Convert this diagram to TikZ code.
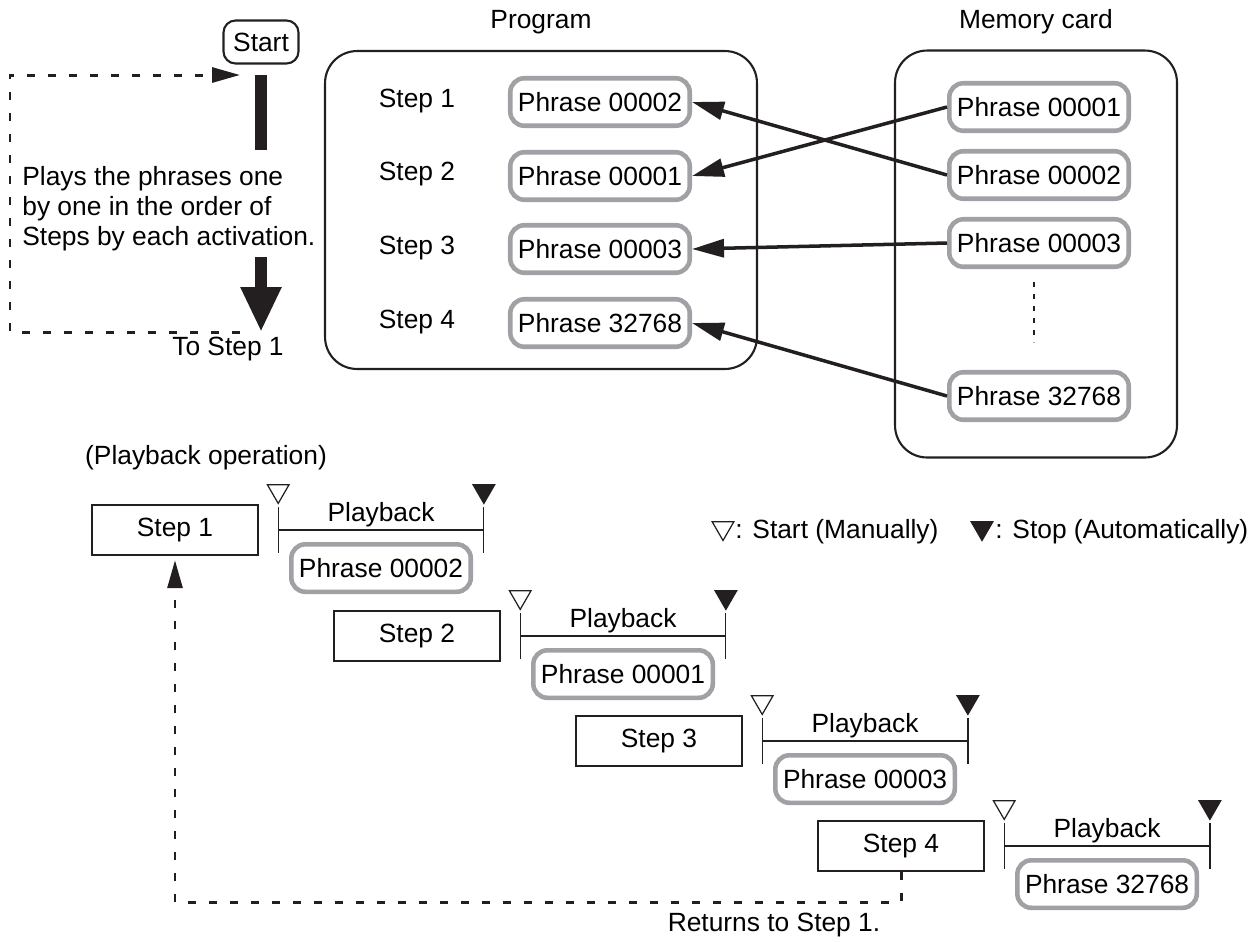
\documentclass[tikz,border=0pt]{standalone}
\usepackage{fontspec}
\setmainfont{Liberation Sans}
\usetikzlibrary{arrows.meta,positioning,shapes.geometric}
\definecolor{inkBlack}{RGB}{35,31,32}
\definecolor{phraseGray}{RGB}{160,161,164}
\tikzset{
  panel/.style={draw=inkBlack, line width=1.2pt, rounded corners=0.64cm, inner sep=0pt},
  startbox/.style={draw=inkBlack, line width=1.2pt, rounded corners=0.24cm, minimum width=1.5cm, minimum height=0.86cm, inner sep=0pt},
  phrasebox/.style={draw=phraseGray, line width=2.6pt, rounded corners=0.28cm, fill=white, minimum width=3.59cm, minimum height=0.95cm, inner sep=0pt},
  stepbox/.style={draw=inkBlack, line width=1.4pt, minimum width=3.32cm, minimum height=1.0cm, inner sep=0pt},
  playspan/.style={minimum width=4.1cm, minimum height=0.9cm, inner sep=0pt},
  spanline/.style={draw=inkBlack, line width=0.7pt},
  openmark/.style={regular polygon, regular polygon sides=3, shape border rotate=180, draw=inkBlack, line width=0.7pt, minimum size=0.5cm, inner sep=0pt},
  shutmark/.style={openmark, fill=inkBlack},
  link/.style={-{Triangle[length=0.64cm, width=0.36cm]}, line width=2pt, draw=inkBlack},
  loopline/.style={-{Triangle[length=0.56cm, width=0.3cm]}, line width=1.7pt, draw=inkBlack, dash pattern=on 0.16cm off 0.26cm},
  bigbar/.style={line width=0.24cm, draw=inkBlack},
  bigflow/.style={bigbar, -{Triangle[length=0.9cm, width=0.76cm]}},
  dotline/.style={draw=inkBlack, line width=0.8pt, dash pattern=on 0.1cm off 0.14cm},
  plain/.style={inner sep=0pt}
}
\begin{document}
\begin{tikzpicture}[x=0.02cm, y=-0.02cm, font=\fontsize{15}{17}\selectfont]
  \useasboundingbox (0,0) rectangle (1253,941);
  \node[startbox] (start) at (261,42) {Start};
  \node[plain, align=left, anchor=west] (note) at (22,209) {Plays the phrases one\\by one in the order of\\Steps by each activation.};
  \node[plain] (tostep) at (228,349) {To Step 1};
  \coordinate (bartop) at (261,75);
  \coordinate (barmid) at (261,150);
  \coordinate (barlow) at (261,257);
  \coordinate (bartip) at (261,332);
  \draw[bigbar] (bartop) -- (barmid);
  \draw[bigflow] (barlow) -- (bartip);
  \coordinate (loopfrom) at (240,332);
  \coordinate (loopside) at (10,200);
  \coordinate (loopto) at (240,75);
  \draw[loopline] (loopfrom) -- (loopfrom -| loopside) |- (loopto);

  \node[plain] (proglabel) at (541,22) {Program};
  \node[panel, minimum width=8.64cm, minimum height=6.36cm] (program) at (541,210) {};
  \node[plain] (ps1) at (417,101) {Step 1};
  \node[plain] (ps2) at (417,174) {Step 2};
  \node[plain] (ps3) at (417,248) {Step 3};
  \node[plain] (ps4) at (417,322) {Step 4};
  \node[phrasebox] (p1) at (600,102) {Phrase 00002};
  \node[phrasebox] (p2) at (600,176) {Phrase 00001};
  \node[phrasebox] (p3) at (600,249) {Phrase 00003};
  \node[phrasebox] (p4) at (600,323) {Phrase 32768};

  \node[plain] (memlabel) at (1036,22) {Memory card};
  \node[panel, minimum width=5.64cm, minimum height=8.14cm] (memory) at (1036,254) {};
  \node[phrasebox] (m1) at (1039,107) {Phrase 00001};
  \node[phrasebox] (m2) at (1039,175) {Phrase 00002};
  \node[phrasebox] (m3) at (1039,243) {Phrase 00003};
  \node[phrasebox] (m4) at (1039,396) {Phrase 32768};
  \coordinate (dotstop) at (1034,282);
  \coordinate (dotsbot) at (1034,342);
  \draw[dotline] (dotstop) -- (dotsbot);
  \draw[link] (m1.west) -- (p2.east);
  \draw[link] (m2.west) -- (p1.east);
  \draw[link] (m3.west) -- (p3.east);
  \draw[link] (m4.west) -- (p4.east);

  \node[plain] (oplabel) at (206,458) {(Playback operation)};
  \node[openmark] (lgopen) at (723,528) {};
  \node[plain, anchor=west] (lgstart) at (735,532) {: Start (Manually)};
  \node[shutmark] (lgshut) at (982,528) {};
  \node[plain, anchor=west] (lgstop) at (995,532) {: Stop (Automatically)};

  \node[stepbox] (row1) at (175,530) {Step 1};
  \node[playspan, right=0.38cm of row1] (span1) {};
  \draw[spanline] (span1.north west) -- (span1.south west) (span1.north east) -- (span1.south east);
  \draw[spanline] (span1.west) -- node[plain, above=0.05cm] (play1) {Playback} (span1.east);
  \node[openmark, above=0.05cm of span1.north west] (go1) {};
  \node[shutmark, above=0.05cm of span1.north east] (end1) {};
  \node[phrasebox, below=0.24cm of span1.center] (ph1) {Phrase 00002};

  \node[stepbox] (row2) at (417,636) {Step 2};
  \node[playspan, right=0.38cm of row2] (span2) {};
  \draw[spanline] (span2.north west) -- (span2.south west) (span2.north east) -- (span2.south east);
  \draw[spanline] (span2.west) -- node[plain, above=0.05cm] (play2) {Playback} (span2.east);
  \node[openmark, above=0.05cm of span2.north west] (go2) {};
  \node[shutmark, above=0.05cm of span2.north east] (end2) {};
  \node[phrasebox, below=0.24cm of span2.center] (ph2) {Phrase 00001};

  \node[stepbox] (row3) at (659,741) {Step 3};
  \node[playspan, right=0.38cm of row3] (span3) {};
  \draw[spanline] (span3.north west) -- (span3.south west) (span3.north east) -- (span3.south east);
  \draw[spanline] (span3.west) -- node[plain, above=0.05cm] (play3) {Playback} (span3.east);
  \node[openmark, above=0.05cm of span3.north west] (go3) {};
  \node[shutmark, above=0.05cm of span3.north east] (end3) {};
  \node[phrasebox, below=0.24cm of span3.center] (ph3) {Phrase 00003};

  \node[stepbox] (row4) at (901,846) {Step 4};
  \node[playspan, right=0.38cm of row4] (span4) {};
  \draw[spanline] (span4.north west) -- (span4.south west) (span4.north east) -- (span4.south east);
  \draw[spanline] (span4.west) -- node[plain, above=0.05cm] (play4) {Playback} (span4.east);
  \node[openmark, above=0.05cm of span4.north west] (go4) {};
  \node[shutmark, above=0.05cm of span4.north east] (end4) {};
  \node[phrasebox, below=0.24cm of span4.center] (ph4) {Phrase 32768};

  \coordinate (backrow) at (500,902);
  \draw[loopline, shorten >=0.08cm] (row4.south) -- (row4.south |- backrow) -| (row1.south);
  \node[plain] (backnote) at (774,925) {Returns to Step 1.};
\end{tikzpicture}
\end{document}
